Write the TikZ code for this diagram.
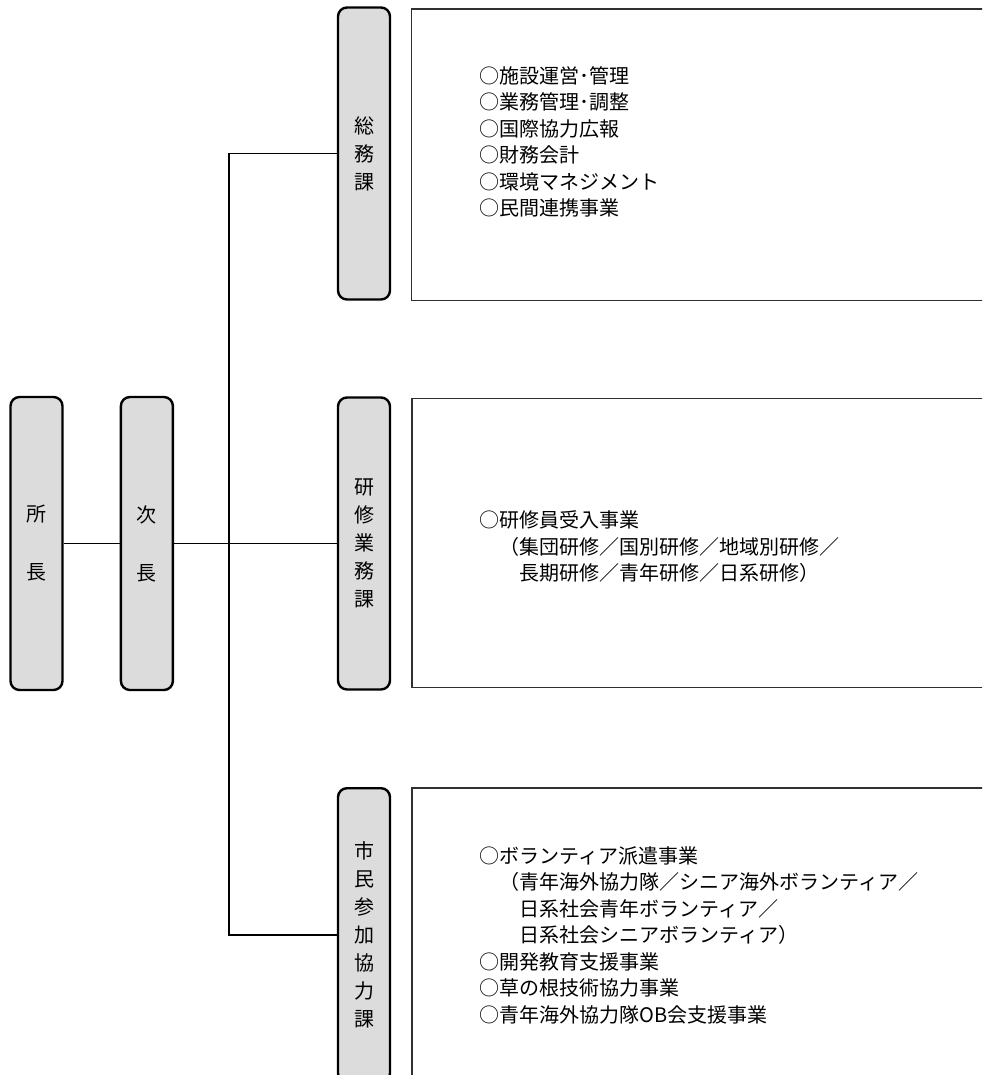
\documentclass[tikz,border=0pt]{standalone}
\usepackage{fontspec}
\setmainfont{Noto Sans CJK JP}
\usetikzlibrary{positioning}
\definecolor{pillgray}{HTML}{DCDCDC}
\definecolor{boxline}{HTML}{303030}

\begin{document}
\begin{tikzpicture}[x=1pt,y=-1pt,
    pill/.style={draw,line width=2.4pt,rounded corners=9pt,fill=pillgray,
        minimum width=52pt,inner sep=0pt,align=center,
        font=\fontsize{20pt}{28pt}\selectfont},
    listbox/.style={draw=boxline,line width=1.5pt,inner sep=0pt,
        anchor=north west,minimum width=600pt},
    listtext/.style={anchor=west,inner sep=0pt,align=left,
        font=\fontsize{20pt}{26.5pt}\selectfont},
    link/.style={line width=1.8pt},
    ]

    % Page
    \useasboundingbox (0,0) rectangle (982,1075);
    \fill[white] (0,0) rectangle (982,1075);
    \clip (0,0) rectangle (982,1075);

    % Head and deputy
    \node[pill,minimum height=293pt] (shocho) at (36.5,543.5) {所\\[30pt]長};
    \node[pill,minimum height=293pt,right=56pt of shocho] (jicho) {次\\[30pt]長};

    % Sections
    \node[pill,minimum height=292pt] (somu) at (364,153.5) {総\\務\\課};
    \node[pill,minimum height=292pt] (kenshu) at (364,543.5) {研\\修\\業\\務\\課};
    \node[pill,minimum height=294pt,anchor=north] (shimin) at (364,787)
        {市\\民\\参\\加\\協\\力\\課};

    % Duty boxes
    \node[listbox,minimum height=291pt] (somubox) at (410.5,8.5) {};
    \node[listbox,minimum height=289pt] (kenshubox) at (411,397.5) {};
    \node[listbox,minimum height=320pt] (shiminbox) at (411,787) {};

    \node[listtext] (somulist) at (479,142)
        {○施設運営･管理\\○業務管理･調整\\○国際協力広報\\○財務会計\\○環境マネジメント\\○民間連携事業};
    \node[listtext] (kenshulist) at (479,547)
        {○研修員受入事業\\　（集団研修／国別研修／地域別研修／\\　　長期研修／青年研修／日系研修）};
    \node[listtext] (shiminlist) at (479,935)
        {○ボランティア派遣事業\\　（青年海外協力隊／シニア海外ボランティア／\\　　日系社会青年ボランティア／\\　　日系社会シニアボランティア）\\○開発教育支援事業\\○草の根技術協力事業\\○青年海外協力隊OB会支援事業};

    % Connectors
    \coordinate (bus) at (229,543.5);
    \draw[link] (shocho) -- (jicho);
    \draw[link] (jicho) -- (kenshu);
    \draw[link] (somu.west) -| (bus) |- (shimin.west);

\end{tikzpicture}
\end{document}
